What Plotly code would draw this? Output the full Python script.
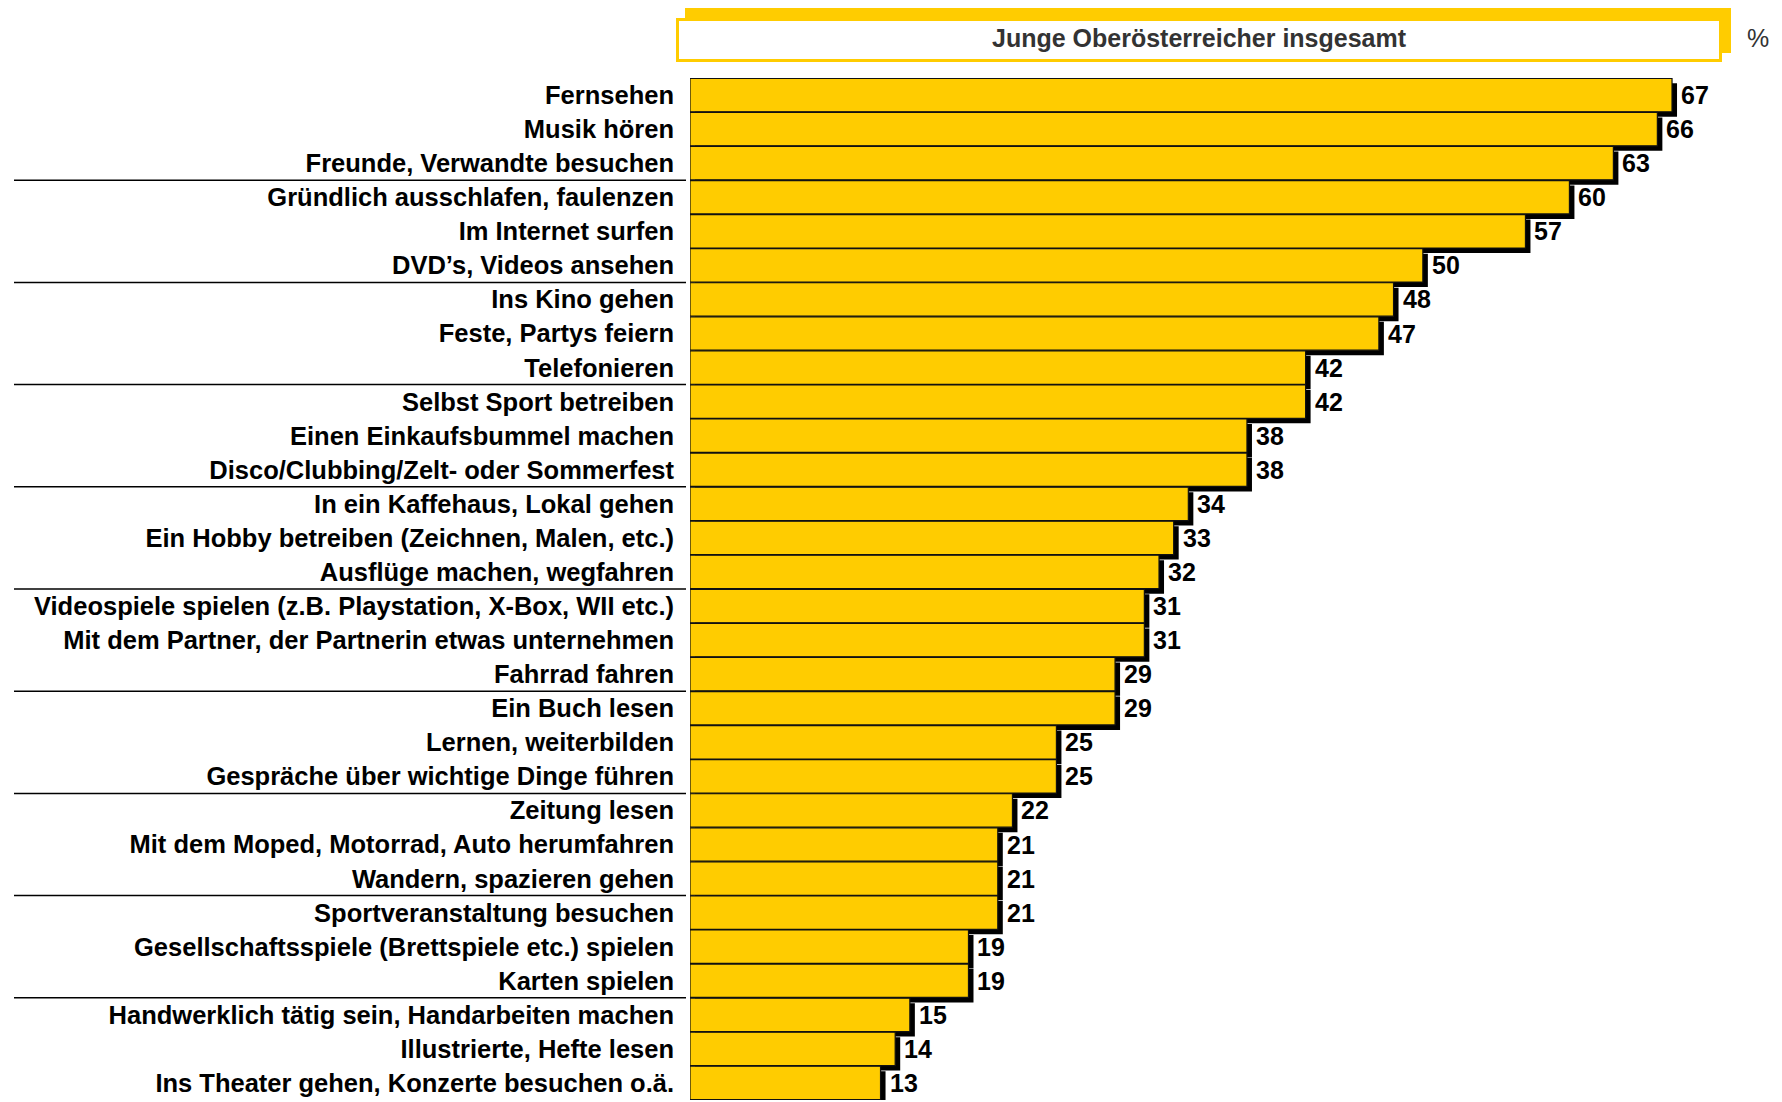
import plotly.graph_objects as go

categories = [
    "Fernsehen", "Musik hören", "Freunde, Verwandte besuchen",
    "Gründlich ausschlafen, faulenzen", "Im Internet surfen", "DVD’s, Videos ansehen",
    "Ins Kino gehen", "Feste, Partys feiern", "Telefonieren",
    "Selbst Sport betreiben", "Einen Einkaufsbummel machen", "Disco/Clubbing/Zelt- oder Sommerfest",
    "In ein Kaffehaus, Lokal gehen", "Ein Hobby betreiben (Zeichnen, Malen, etc.)", "Ausflüge machen, wegfahren",
    "Videospiele spielen (z.B. Playstation, X-Box, WII etc.)", "Mit dem Partner, der Partnerin etwas unternehmen", "Fahrrad fahren",
    "Ein Buch lesen", "Lernen, weiterbilden", "Gespräche über wichtige Dinge führen",
    "Zeitung lesen", "Mit dem Moped, Motorrad, Auto herumfahren", "Wandern, spazieren gehen",
    "Sportveranstaltung besuchen", "Gesellschaftsspiele (Brettspiele etc.) spielen", "Karten spielen",
    "Handwerklich tätig sein, Handarbeiten machen", "Illustrierte, Hefte lesen", "Ins Theater gehen, Konzerte besuchen o.ä.",
]
values = [67, 66, 63, 60, 57, 50, 48, 47, 42, 42, 38, 38, 34, 33, 32,
          31, 31, 29, 29, 25, 25, 22, 21, 21, 21, 19, 19, 15, 14, 13]
header_title = "Junge Oberösterreicher insgesamt"
unit_label = "%"

OFF = 8  # default page body margin
W, H = 1774, 1094
L, R, T, B = 682, 66, 70, 2
xmax = 70
pw = W - L - R
ph = H - T - B
n = len(categories)
ppu_x = pw / xmax
ppu_y = ph / n
sx = 5 / ppu_x
sy = 5 / ppu_y
FONT = "Liberation Sans, Arial, sans-serif"
YEL = "#FFCC00"


def px(x):
    return (x - OFF - L) / pw


def py(y):
    return (H - B - (y - OFF)) / ph


fig = go.Figure()
# shadow
fig.add_bar(y=categories, x=values, base=sx, orientation="h", offset=-0.49 + sy, width=0.98,
            marker=dict(color="black", line=dict(width=0)), hoverinfo="skip", showlegend=False)
# bars
fig.add_bar(y=categories, x=values, orientation="h", offset=-0.49, width=0.98,
            marker=dict(color=YEL, line=dict(color="#111111", width=1.2)), showlegend=False)

shapes = []
for k in range(3, n, 3):
    shapes.append(dict(type="line", xref="paper", yref="y", x0=px(14), x1=px(686),
                       y0=k - 0.5, y1=k - 0.5, line=dict(color="black", width=1.5)))
shapes.append(dict(type="rect", xref="paper", yref="paper", x0=px(685), x1=px(1731),
                   y0=py(53), y1=py(7), fillcolor=YEL, line=dict(width=0)))
shapes.append(dict(type="rect", xref="paper", yref="paper", x0=px(677.5), x1=px(1720.5),
                   y0=py(60.5), y1=py(19.5), fillcolor="white", line=dict(color=YEL, width=3)))

annotations = []
for c, v in zip(categories, values):
    annotations.append(dict(x=v, y=c, xref="x", yref="y", text=str(v), showarrow=False,
                            xanchor="left", yanchor="middle", xshift=7,
                            font=dict(family=FONT, size=25, color="black", weight="bold")))
annotations.append(dict(x=px(1199), y=py(38), xref="paper", yref="paper", text=header_title,
                        showarrow=False, xanchor="center", yanchor="middle",
                        font=dict(family=FONT, size=25, color="#333333", weight="bold")))
annotations.append(dict(x=px(1758), y=py(38), xref="paper", yref="paper", text=unit_label,
                        showarrow=False, xanchor="center", yanchor="middle",
                        font=dict(family=FONT, size=25, color="#333333")))

fig.update_layout(
    width=W, height=H, margin=dict(l=L, r=R, t=T, b=B),
    paper_bgcolor="white", plot_bgcolor="white", barmode="overlay",
    xaxis=dict(range=[0, xmax], visible=False, fixedrange=True),
    yaxis=dict(type="category", range=[n - 0.5, -0.5], showgrid=False, zeroline=False,
               showline=False, ticks="", ticklabelstandoff=15,
               tickfont=dict(family=FONT, size=25.5, color="black", weight="bold")),
    shapes=shapes, annotations=annotations, showlegend=False,
)
fig.write_html("out.html")
